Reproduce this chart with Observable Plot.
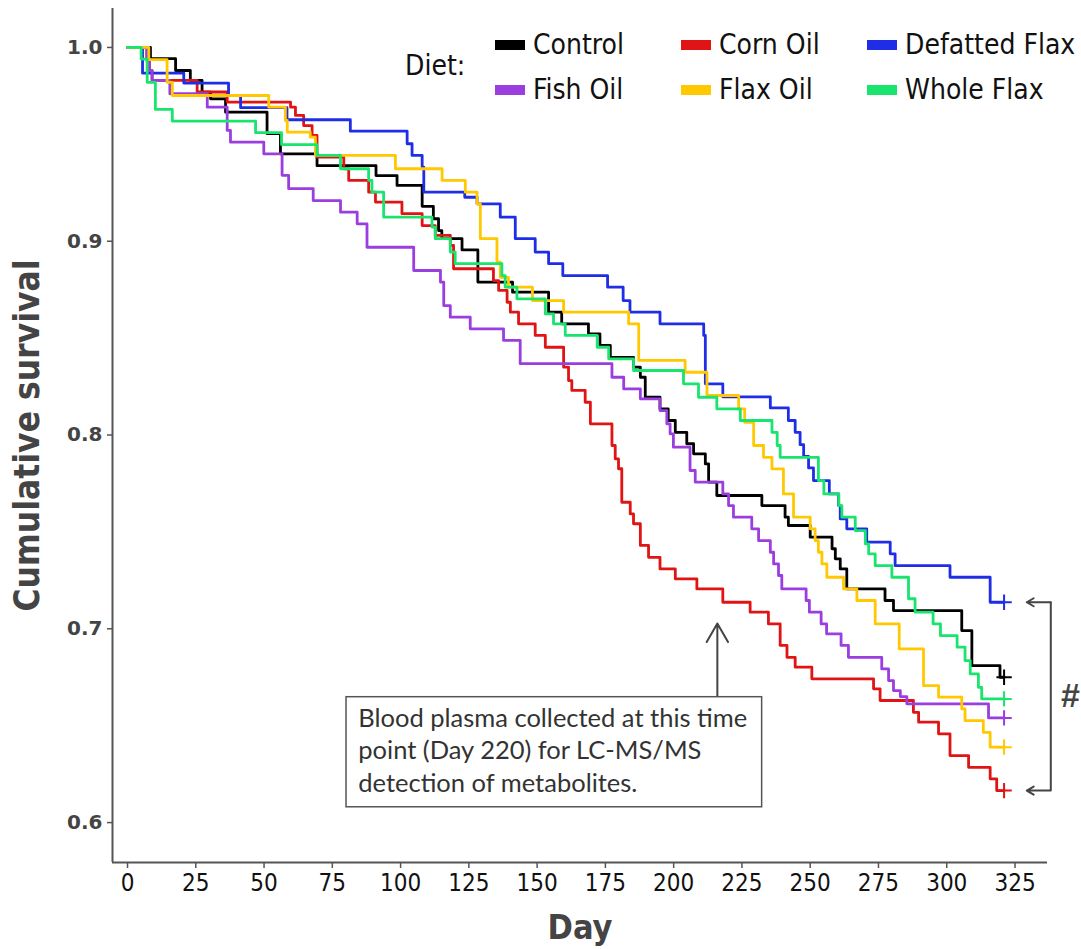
<!DOCTYPE html>
<html><head><meta charset="utf-8">
<script src="https://cdn.jsdelivr.net/npm/d3@7"></script>
<script src="https://cdn.jsdelivr.net/npm/@observablehq/plot@0.6"></script>
<style>
body{margin:0;background:#fff;}
#wrap{position:relative;width:1081px;height:949px;overflow:hidden;}
#legend{position:absolute;left:0;top:0;width:1081px;height:120px;pointer-events:none;
  font-family:"Liberation Sans Narrow","DejaVu Sans Condensed","Arial Narrow","Liberation Sans",sans-serif;color:#111;}
.lg-item{position:absolute;display:flex;align-items:center;font-size:28px;line-height:1;white-space:nowrap;}
.lg-sw{width:30px;height:10px;margin-right:8px;}
#diet{position:absolute;left:405px;top:52px;font-size:28px;line-height:1;}
g[aria-label="y-axis tick label"] text{font-family:"DejaVu Sans","Liberation Sans",sans-serif;font-weight:bold;font-size:20px;fill:#444;}
g[aria-label="x-axis tick label"] text{font-family:"Liberation Sans Narrow","DejaVu Sans Condensed","Liberation Sans",sans-serif;font-size:24px;fill:#111;}
g[aria-label="x-axis label"] text, g[aria-label="y-axis label"] text{font-family:"Liberation Sans Narrow","DejaVu Sans Condensed","Liberation Sans",sans-serif;font-weight:bold;fill:#444;}
g[aria-label="x-axis label"] text{font-size:34px;}
g[aria-label="y-axis label"] text{font-size:35px;}
</style></head>
<body><div id="wrap"><div id="chart"></div><div id="legend"></div></div>
<script>
// ---- data ----
const dietNames  = ["Control","Corn Oil","Defatted Flax","Fish Oil","Flax Oil","Whole Flax"];
const dietColors = ["#000000","#e01414","#1f2ee6","#9a3ee0","#ffc800","#18e46e"];
const xTicks = [0,25,50,75,100,125,150,175,200,225,250,275,300,325];
const yTicks = [0.6,0.7,0.8,0.9,1.0];

// [day, cumulative survival] — step-after
const controlSteps = [[0,1],[8.4,0.9942],[17.6,0.9881],[23,0.983],[27.3,0.9769],[30.4,0.9735],[35.9,0.9666],[51.1,0.9555],[56,0.9451],[69.4,0.939],[91,0.9339],[98.7,0.9288],[107.9,0.918],[112,0.9116],[113.9,0.9055],[115.1,0.9013],[122.5,0.8955],[128.3,0.8789],[141,0.8737],[154.2,0.8634],[159,0.8574],[168.8,0.8522],[173,0.8462],[176.8,0.84],[185.3,0.835],[187.8,0.8298],[189.6,0.8195],[195,0.8135],[198,0.8075],[200.6,0.8014],[204.8,0.7955],[207.3,0.7903],[211.6,0.7851],[212.8,0.7757],[215.8,0.7688],[232.3,0.7636],[240.8,0.7576],[242,0.7533],[250,0.7473],[258,0.7413],[259.2,0.7361],[261,0.7309],[263.4,0.7206],[277.4,0.7146],[280.5,0.7094],[305.5,0.6991],[309.2,0.681],[319.5,0.675],[321,0.675]];
const cornOilSteps = [[0,1],[7.2,0.9924],[8,0.988],[9,0.983],[25.5,0.977],[36.5,0.9718],[59.7,0.9692],[61.5,0.9649],[64.5,0.9597],[67.6,0.9546],[69.4,0.9434],[79.2,0.9374],[81,0.9314],[88.3,0.9253],[90.8,0.9202],[100.5,0.9142],[107.9,0.9081],[112.7,0.903],[118.2,0.8978],[119.4,0.8858],[134,0.8797],[135.9,0.8746],[139,0.8685],[140.2,0.8634],[143.2,0.8574],[149.3,0.8514],[153,0.8453],[159.7,0.835],[161.5,0.8281],[162.7,0.823],[167.6,0.8169],[169.5,0.8058],[177.4,0.7946],[178.6,0.7877],[179.8,0.7826],[181,0.7653],[184.1,0.7593],[185.3,0.7542],[187.8,0.743],[190.8,0.7369],[195,0.7309],[200.6,0.7258],[208.5,0.7206],[218,0.7137],[228,0.7086],[234.7,0.7025],[239,0.6914],[241.5,0.6853],[244.5,0.6802],[250.6,0.6742],[273.2,0.669],[275.6,0.663],[287.8,0.6569],[289.7,0.6518],[297,0.6458],[301.2,0.6346],[308,0.6285],[315.9,0.6226],[318.3,0.6165],[321,0.6165]];
const defattedFlaxSteps = [[0,1],[5.5,0.9867],[20.6,0.9816],[37,0.9752],[41.4,0.9689],[58.4,0.9627],[81.6,0.9568],[102.4,0.9503],[104.2,0.9443],[107.9,0.9382],[108.5,0.9253],[123.5,0.9227],[128,0.9193],[136.5,0.9124],[142,0.9013],[149.3,0.8944],[154.2,0.8884],[159.4,0.8823],[175.8,0.8763],[181.5,0.8694],[184,0.8634],[195,0.8574],[211,0.8514],[211.6,0.8264],[218,0.8197],[235.4,0.814],[242,0.8075],[244.5,0.8014],[246.3,0.795],[247.6,0.789],[249.4,0.783],[251.2,0.7765],[257,0.7696],[260.4,0.7636],[261,0.7567],[263.4,0.7516],[270.7,0.7447],[279.3,0.7387],[281.1,0.7326],[301.2,0.7266],[315.9,0.7137],[321,0.7137]];
const fishOilSteps = [[0,1],[7,0.994],[8,0.988],[9,0.983],[15.5,0.9761],[29.2,0.9692],[36.5,0.9572],[37.7,0.9511],[49.9,0.9451],[56.6,0.934],[59,0.9271],[68,0.921],[78,0.915],[84.1,0.909],[87.7,0.8969],[104.8,0.8849],[114.6,0.8789],[115.8,0.8668],[118.2,0.8608],[125.5,0.8548],[137.7,0.8488],[143.8,0.8368],[177.4,0.8298],[181.7,0.8238],[187.8,0.8187],[195,0.8126],[197.5,0.8058],[198.7,0.8006],[199.9,0.7937],[206,0.7817],[207.9,0.7757],[218,0.7696],[220.1,0.7636],[221.9,0.7576],[228.6,0.7516],[231.1,0.7455],[235.4,0.7395],[236.6,0.7335],[238.4,0.7275],[239.6,0.7206],[248.5,0.7146],[249.7,0.7086],[254,0.7025],[256,0.6974],[261.3,0.6914],[264,0.6853],[276.2,0.6793],[278.7,0.6733],[280.5,0.6681],[283,0.665],[285.4,0.6613],[315.3,0.654],[321,0.654]];
const flaxOilSteps = [[0,1],[7.8,0.9937],[14.5,0.982],[16.4,0.9752],[51.7,0.9692],[57.8,0.9623],[58.5,0.9563],[66.9,0.9537],[68.8,0.9443],[98.1,0.9374],[115.2,0.9314],[123.7,0.9253],[128,0.9193],[129.2,0.9013],[135.3,0.8892],[136.5,0.8814],[139.5,0.8763],[148.3,0.8694],[159.7,0.8634],[183.5,0.8574],[187.2,0.8385],[204.2,0.8324],[212.2,0.8204],[223.8,0.8135],[226,0.8066],[229.3,0.7946],[232.9,0.7885],[236,0.7825],[240.2,0.7696],[243.9,0.7576],[250,0.7516],[251.8,0.7455],[253,0.7395],[254.3,0.7335],[256.1,0.7266],[262.2,0.7206],[267.1,0.7146],[273.8,0.7025],[282.6,0.6896],[291.5,0.6707],[297,0.6647],[305.5,0.6587],[306.7,0.6526],[313.4,0.6466],[315.9,0.6389],[321,0.6389]];
const wholeFlaxSteps = [[0,1],[5,0.994],[7.2,0.982],[10.2,0.968],[16.4,0.962],[46.9,0.956],[56.4,0.9499],[69.4,0.9443],[78,0.9374],[88.3,0.9314],[89.5,0.9253],[93.8,0.9124],[111.5,0.9073],[112.7,0.9013],[118.2,0.8944],[120,0.8884],[137.1,0.8823],[138.3,0.8763],[142.6,0.8703],[153,0.8625],[156,0.8574],[160.3,0.8514],[172,0.8453],[176.2,0.8393],[185.3,0.8333],[203.6,0.8264],[209.1,0.8195],[215.8,0.8135],[224.4,0.8075],[236,0.8014],[237.9,0.7946],[239,0.7885],[253,0.7765],[255,0.7696],[260.5,0.7636],[261.6,0.7576],[266.5,0.7507],[270.2,0.7438],[271.4,0.7387],[273.8,0.7326],[279.9,0.7266],[286,0.7155],[288.4,0.7086],[295,0.7025],[297.7,0.6965],[303.8,0.6905],[306.7,0.6836],[308.6,0.6767],[311.6,0.6698],[312.8,0.6638],[321,0.6638]];

const annotationDay = 216;
const annotationLines = ["Blood plasma collected at this time","point (Day 220) for LC-MS/MS","detection of metabolites."];
const bracketLabel = "#";

// ---- build table ----
const stepsByDiet = [controlSteps, cornOilSteps, defattedFlaxSteps, fishOilSteps, flaxOilSteps, wholeFlaxSteps];
const rows = [];
const ends = [];
stepsByDiet.forEach((steps, i) => {
  steps.forEach(([day, surv]) => rows.push({diet: dietNames[i], day, surv}));
  const [d, s] = steps[steps.length - 1];
  ends.push({diet: dietNames[i], day: d, surv: s});
});
const topEnd = ends.find(e => e.diet === "Defatted Flax");
const lowEnd = ends.find(e => e.diet === "Corn Oil");

const xDomain = [-5.5, 336.9];
const yDomain = [0.5794, 1.0201];
const bracketX = 338.1, bracketTipX = 329.3;

const chart = Plot.plot({
  width: 1081, height: 949,
  marginLeft: 112, marginRight: 34, marginTop: 8, marginBottom: 87,
  style: {background: "white", color: "#555"},
  x: {domain: xDomain},
  y: {domain: yDomain},
  color: {domain: dietNames, range: dietColors},
  marks: [
    Plot.axisX({ticks: xTicks, tickSize: 6, tickPadding: 5, tickFormat: d => String(d), label: "Day", labelAnchor: "center", labelOffset: 76, labelArrow: "none", strokeWidth: 1.5}),
    Plot.axisY({ticks: yTicks, tickSize: 5, tickPadding: 5, tickFormat: d3.format(".1f"), label: "Cumulative survival", labelAnchor: "center", labelOffset: 98, labelArrow: "none", strokeWidth: 1.5}),
    Plot.ruleX([xDomain[0]], {stroke: "#555", strokeWidth: 2}),
    Plot.ruleY([yDomain[0]], {stroke: "#555", strokeWidth: 2}),
    Plot.line(rows, {x: "day", y: "surv", z: "diet", stroke: "diet", curve: "step-after", strokeWidth: 2.8}),
    Plot.dot(ends, {x: "day", y: "surv", stroke: "diet", symbol: "plus", r: 5, strokeWidth: 2}),
    // annotation
    Plot.arrow([annotationDay], {x1: d => d, x2: d => d, y1: 0.6647, y2: 0.7027, stroke: "#444", strokeWidth: 2, headLength: 16}),
    Plot.rect([annotationDay], {x1: 80.2, x2: 232.4, y1: 0.6079, y2: 0.6647, fill: "white", stroke: "#555", strokeWidth: 1.5}),
    Plot.text([annotationLines.join("\n")], {x: 84.5, y: 0.6614, text: d => d, textAnchor: "start", lineAnchor: "top", lineHeight: 1.28, fontSize: 25.5, fill: "#333", fontFamily: "Lato, 'Liberation Sans', sans-serif"}),
    // bracket
    Plot.ruleX([bracketX], {y1: lowEnd.surv, y2: topEnd.surv, stroke: "#444", strokeWidth: 2}),
    Plot.arrow([topEnd, lowEnd], {x1: bracketX, x2: bracketTipX, y1: "surv", y2: "surv", stroke: "#444", strokeWidth: 2, headLength: 12}),
    Plot.text([bracketLabel], {x: 345.3, y: (topEnd.surv + lowEnd.surv) / 2, text: d => d, fontSize: 34, fontWeight: "bold", fill: "#444", fontFamily: "'Liberation Sans', sans-serif"})
  ]
});
document.getElementById("chart").appendChild(chart);

// legend overlay
const legend = document.getElementById("legend");
const diet = document.createElement("div");
diet.id = "diet"; diet.textContent = "Diet:"; legend.appendChild(diet);
const colLeft = [495, 681, 867];
const rowTop = [31, 76];
dietNames.forEach((name, i) => {
  const it = document.createElement("div");
  it.className = "lg-item";
  it.style.left = colLeft[i % 3] + "px";
  it.style.top = rowTop[Math.floor(i / 3)] + "px";
  const sw = document.createElement("span");
  sw.className = "lg-sw"; sw.style.background = dietColors[i];
  const t = document.createElement("span"); t.textContent = name;
  it.appendChild(sw); it.appendChild(t);
  legend.appendChild(it);
});
</script></body></html>
